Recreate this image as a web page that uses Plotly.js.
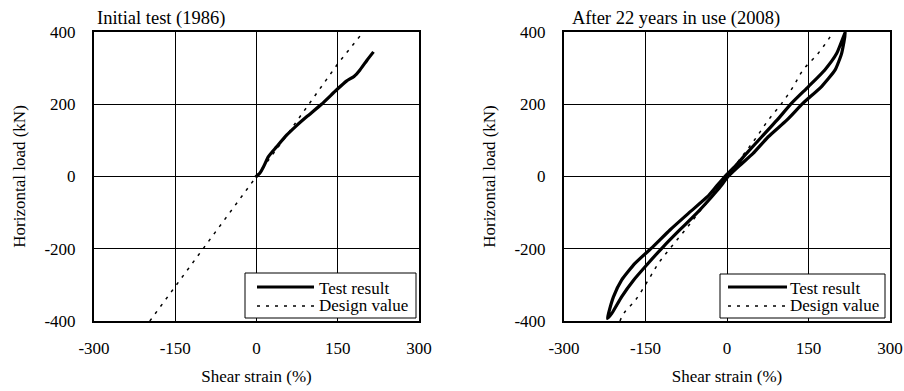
<!DOCTYPE html>
<html>
<head>
<meta charset="utf-8">
<script src="https://cdn.plot.ly/plotly-3.0.1.min.js"></script>
<style>html,body{margin:0;padding:0;background:#fff;}#chart{width:904px;height:391px;}</style>
</head>
<body>
<div id="chart"></div>
<script>
// Left panel: initial test (1986)
var leftTestX = [-2, 6, 13, 22, 37, 56, 74, 93, 120, 148, 166, 180, 191, 204, 216];
var leftTestY = [-2, 9, 27, 55, 82, 115, 141, 166, 200, 240, 264, 277, 295, 322, 345];
var leftDesignX = [-197, -150, -98, -49, 0, 50, 99, 150, 197];
var leftDesignY = [-400, -305, -200, -100, 0, 102, 205, 312, 400];

// Right panel: after 22 years in use (2008) - hysteresis loop
var rightTestX = [-220, -212, -194, -172, -145, -117, -87, -56, -28, -12, 2, 26, 48, 76, 110, 140, 174, 199, 211, 218,
                  202, 180, 150, 119, 92, 64, 36, 16, -4, -20, -36, -71, -105, -136, -169, -194, -209, -218, -220];
var rightTestY = [-393, -379, -333, -287, -240, -194, -148, -102, -56, -28, 0, 34, 64, 110, 156, 203, 249, 295, 341, 400,
                  341, 295, 249, 203, 156, 110, 64, 30, 0, -28, -56, -102, -148, -194, -240, -287, -333, -379, -393];
var rightDesignX = [-197, -190, -168, -145, -126, -102, -77, -53, -28, 0, 28, 52, 76, 101, 122, 140, 168, 190, 196];
var rightDesignY = [-400, -379, -341, -287, -240, -194, -148, -102, -56, 0, 56, 104, 156, 203, 249, 295, 341, 387, 400];

var xTicks = [-300, -150, 0, 150, 300];
var xTickText = ["-300", "-150", "0", "150", "300"];
var yTicks = [-400, -200, 0, 200, 400];
var yTickText = ["-400", "-200", "0", "200", "400"];
var panelTitles = ["Initial test (1986)", "After 22 years in use (2008)"];
var xTitle = "Shear strain (%)";
var yTitle = "Horizontal load (kN)";
var seriesNames = ["Test result", "Design value"];

var FONT = "'Liberation Serif', 'Times New Roman', serif";
var FS = 17;
var W = 904, H = 391;

var testLine = {color: "#000", width: 3.2, shape: "spline", smoothing: 0.5};
var designLine = {color: "#000", width: 1.5, dash: "3px,6px"};

var traces = [
  {x: leftTestX, y: leftTestY, mode: "lines", name: seriesNames[0], line: testLine, xaxis: "x", yaxis: "y"},
  {x: leftDesignX, y: leftDesignY, mode: "lines", name: seriesNames[1], line: designLine, xaxis: "x", yaxis: "y"},
  {x: rightTestX, y: rightTestY, mode: "lines", name: seriesNames[0], line: testLine, xaxis: "x2", yaxis: "y2"},
  {x: rightDesignX, y: rightDesignY, mode: "lines", name: seriesNames[1], line: {color: "#000", width: 1.5, dash: "3px,6px", shape: "spline"}, xaxis: "x2", yaxis: "y2"}
];

function xAxis(d0, d1, anchor) {
  return {
    domain: [d0 / W, d1 / W], anchor: anchor, range: [-300, 300], tickvals: xTicks, ticktext: xTickText,
    ticks: "outside", ticklen: 11, tickcolor: "rgba(0,0,0,0)",
    showgrid: true, gridcolor: "#000", gridwidth: 1, zeroline: false,
    showline: true, linecolor: "#000", linewidth: 2, mirror: true,
    tickfont: {family: FONT, size: FS, color: "#000"},
    title: {text: xTitle, font: {family: FONT, size: FS, color: "#000"}, standoff: 13},
    automargin: false, fixedrange: true
  };
}
function yAxis(anchor) {
  return {
    domain: [1 - 321 / H, 1 - 32 / H], anchor: anchor, range: [-400, 400], tickvals: yTicks, ticktext: yTickText,
    ticks: "outside", ticklen: 13, tickcolor: "rgba(0,0,0,0)",
    showgrid: true, gridcolor: "#000", gridwidth: 1, zeroline: false,
    showline: true, linecolor: "#000", linewidth: 2, mirror: true,
    tickfont: {family: FONT, size: FS, color: "#000"},
    title: {text: yTitle, font: {family: FONT, size: FS, color: "#000"}, standoff: 14},
    automargin: false, fixedrange: true
  };
}

// Manual legends (box, line samples, labels) in paper pixels
function px(x) { return x / W; }
function py(y) { return 1 - y / H; }
var legends = [
  {box: [245, 273, 416, 318], s0: 257, s1: 314, yA: 287, yB: 306, tA: 288, tB: 305, tx: 317},
  {box: [720, 274, 885, 318], s0: 728, s1: 787, yA: 287, yB: 306, tA: 288, tB: 305, tx: 788}
];
var shapes = [], annotations = [];
legends.forEach(function (L) {
  shapes.push({type: "rect", xref: "paper", yref: "paper", x0: px(L.box[0]), x1: px(L.box[2]), y0: py(L.box[1]), y1: py(L.box[3]),
               line: {color: "#000", width: 1}, fillcolor: "#fff", layer: "above"});
  shapes.push({type: "line", xref: "paper", yref: "paper", x0: px(L.s0), x1: px(L.s1), y0: py(L.yA), y1: py(L.yA),
               line: {color: "#000", width: testLine.width}, layer: "above"});
  shapes.push({type: "line", xref: "paper", yref: "paper", x0: px(L.s0), x1: px(L.s1), y0: py(L.yB), y1: py(L.yB),
               line: {color: "#000", width: designLine.width, dash: designLine.dash}, layer: "above"});
  annotations.push({text: seriesNames[0], xref: "paper", yref: "paper", x: px(L.tx), y: py(L.tA), xanchor: "left", yanchor: "middle",
                    showarrow: false, font: {family: FONT, size: FS, color: "#000"}});
  annotations.push({text: seriesNames[1], xref: "paper", yref: "paper", x: px(L.tx), y: py(L.tB), xanchor: "left", yanchor: "middle",
                    showarrow: false, font: {family: FONT, size: FS, color: "#000"}});
});
annotations.push({text: panelTitles[0], xref: "paper", yref: "paper", x: px(95), y: py(18), xanchor: "left", yanchor: "middle", showarrow: false, font: {family: FONT, size: 18.5, color: "#000"}});
annotations.push({text: panelTitles[1], xref: "paper", yref: "paper", x: px(570), y: py(18), xanchor: "left", yanchor: "middle", showarrow: false, font: {family: FONT, size: 18.5, color: "#000"}});

var layout = {
  width: W, height: H,
  margin: {l: 0, r: 0, t: 0, b: 0},
  paper_bgcolor: "#fff", plot_bgcolor: "#fff",
  showlegend: false,
  font: {family: FONT, size: FS, color: "#000"},
  xaxis: xAxis(94, 419, "y"),
  yaxis: yAxis("x"),
  xaxis2: xAxis(564, 890, "y2"),
  yaxis2: yAxis("x2"),
  shapes: shapes,
  annotations: annotations
};

Plotly.newPlot("chart", traces, layout, {displayModeBar: false, staticPlot: true});
</script>
</body>
</html>
